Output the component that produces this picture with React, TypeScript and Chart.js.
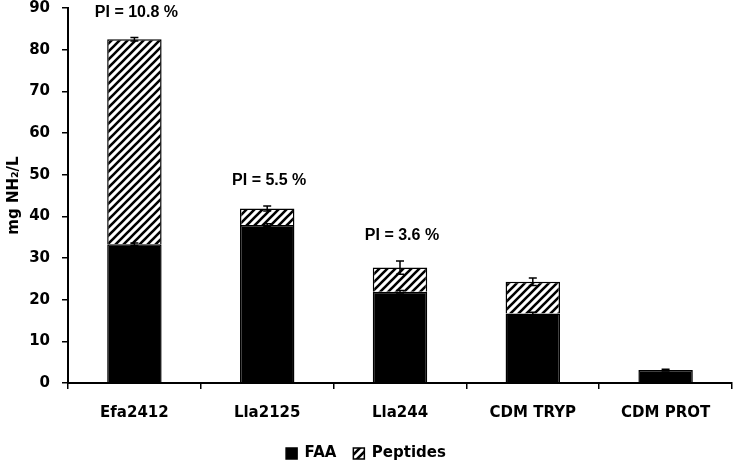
import React, { useEffect, useRef } from "react";
import { Chart, registerables } from "chart.js";

Chart.register(...registerables);

const categories = ["Efa2412", "Lla2125", "Lla244", "CDM TRYP", "CDM PROT"];
const faa = [33.3, 37.9, 21.9, 16.7, 3.1];
const peptides = [49.2, 4.0, 5.8, 7.6, 0];
const faaErr = [0.3, 0.3, 0.3, 0.3, 0.2];
const totalErr = [0.4, 0.6, 1.6, 0.9, 0];
const piLabels = ["PI = 10.8 %", "PI = 5.5 %", "PI = 3.6 %", "", ""];
const yMin = 0;
const yMax = 90;
const yStep = 10;

function makeHatch(): CanvasPattern | string {
  const s = 8;
  const c = document.createElement("canvas");
  c.width = s;
  c.height = s;
  const g = c.getContext("2d");
  if (!g) return "#fff";
  g.fillStyle = "#fff";
  g.fillRect(0, 0, s, s);
  g.strokeStyle = "#000";
  g.lineWidth = 2.6;
  g.beginPath();
  g.moveTo(-2, 2);
  g.lineTo(2, -2);
  g.moveTo(0, s);
  g.lineTo(s, 0);
  g.moveTo(s - 2, s + 2);
  g.lineTo(s + 2, s - 2);
  g.stroke();
  const p = g.createPattern(c, "repeat");
  return p || "#fff";
}

const errPlugin = {
  id: "errbars",
  afterDatasetsDraw(chart: any) {
    const { ctx } = chart;
    const x = chart.scales.x;
    const y = chart.scales.y;
    ctx.save();
    ctx.strokeStyle = "#000";
    ctx.lineWidth = 1.5;
    const draw = (cx: number, v: number, e: number) => {
      if (e <= 0) return;
      const t = y.getPixelForValue(v + e);
      const b = y.getPixelForValue(v - e);
      ctx.beginPath();
      ctx.moveTo(cx, t);
      ctx.lineTo(cx, b);
      ctx.moveTo(cx - 4, t);
      ctx.lineTo(cx + 4, t);
      ctx.moveTo(cx - 4, b);
      ctx.lineTo(cx + 4, b);
      ctx.stroke();
    };
    categories.forEach((_, i) => {
      const cx = x.getPixelForValue(i);
      draw(cx, faa[i], faaErr[i]);
      draw(cx, faa[i] + peptides[i], totalErr[i]);
      if (piLabels[i]) {
        ctx.fillStyle = "#000";
        ctx.font = "bold 16px 'Liberation Sans'";
        ctx.textAlign = "center";
        ctx.textBaseline = "middle";
        const top = y.getPixelForValue(faa[i] + peptides[i] + totalErr[i]);
        ctx.fillText(piLabels[i], cx + 2, top - 25);
      }
    });
    ctx.restore();
  },
};

export default function App() {
  const ref = useRef<HTMLCanvasElement | null>(null);
  useEffect(() => {
    if (!ref.current) return;
    Chart.defaults.font.family = "'DejaVu Sans'";
    Chart.defaults.font.weight = "bold";
    Chart.defaults.color = "#000";
    const hatch = makeHatch();
    const chart = new Chart(ref.current, {
      type: "bar",
      data: {
        labels: categories,
        datasets: [
          {
            label: "FAA",
            data: faa,
            backgroundColor: "#000",
            borderColor: "#000",
            borderWidth: 1.5,
            categoryPercentage: 1,
            barPercentage: 0.41,
          },
          {
            label: "Peptides",
            data: peptides,
            backgroundColor: hatch as any,
            borderColor: "#000",
            borderWidth: 1.5,
            categoryPercentage: 1,
            barPercentage: 0.41,
          },
        ],
      },
      options: {
        responsive: false,
        animation: false,
        layout: { autoPadding: false, padding: { top: 8, right: 1, left: 0, bottom: -7 } },
        plugins: {
          legend: {
            position: "bottom",
            labels: {
              boxWidth: 11,
              boxHeight: 11,
              padding: 17,
              font: { size: 15, weight: "bold" },
              color: "#000",
            },
          },
          tooltip: { enabled: false },
        },
        scales: {
          x: {
            stacked: true,
            grid: {
              drawOnChartArea: false,
              drawTicks: true,
              tickLength: 6,
              color: "#000",
              lineWidth: 1.5,
              offset: true,
            },
            border: { display: true, color: "#000", width: 2 },
            ticks: { padding: 15, font: { size: 15, weight: "bold" }, color: "#000", maxRotation: 0 },
            afterFit: (s: any) => {
              s.height = 46;
              s.paddingLeft = 0;
              s.paddingRight = 0;
            },
          },
          y: {
            stacked: true,
            min: yMin,
            max: yMax,
            grid: {
              drawOnChartArea: false,
              drawTicks: true,
              tickLength: 6,
              color: "#000",
              lineWidth: 1.5,
            },
            border: { display: true, color: "#000", width: 2 },
            ticks: { stepSize: yStep, padding: 12, font: { size: 15, weight: "bold" }, color: "#000" },
            title: {
              display: true,
              text: "mg NH₂/L",
              font: { size: 15, weight: "bold" },
              color: "#000",
              padding: { top: 5, bottom: 0 },
            },
            afterFit: (s: any) => {
              s.width = 68;
              s.paddingTop = 0;
              s.paddingBottom = 0;
            },
          },
        },
      },
      plugins: [errPlugin],
    });
    return () => chart.destroy();
  }, []);
  return (
    <canvas
      ref={ref}
      width={733}
      height={464}
      style={{ position: "absolute", left: 0, top: 0, width: 733, height: 464 }}
    />
  );
}
